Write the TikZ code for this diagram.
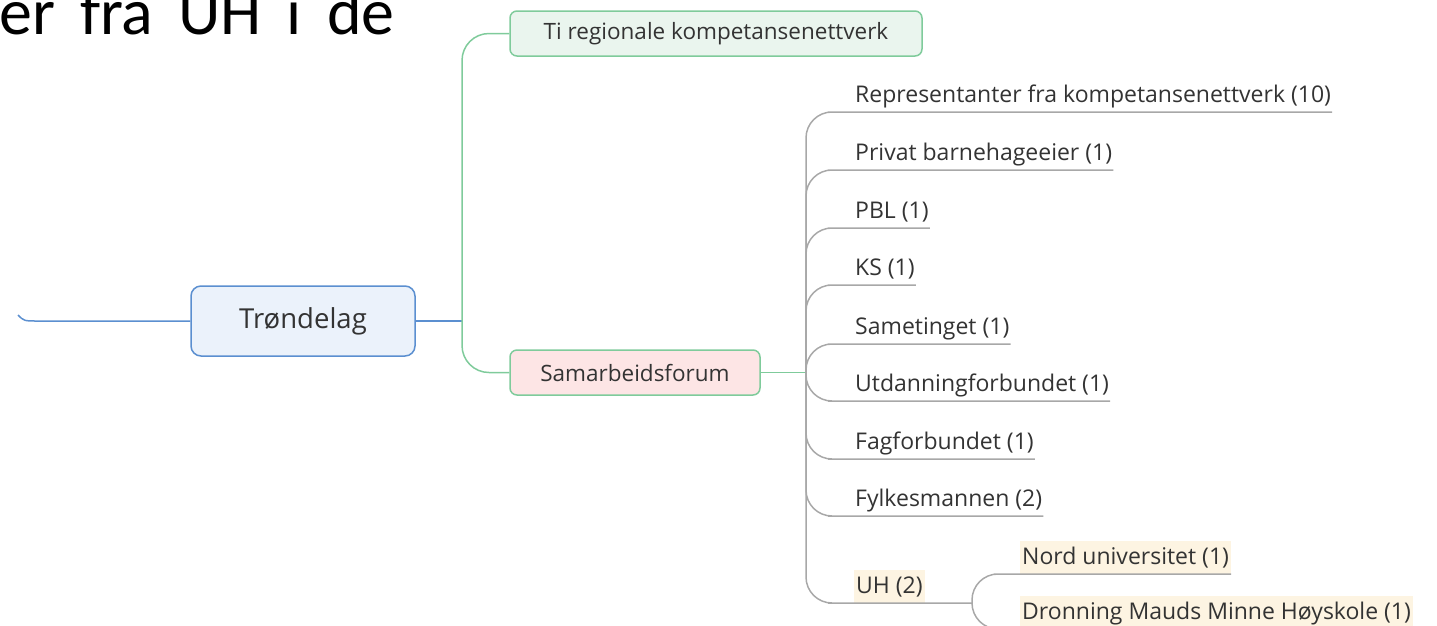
\documentclass[tikz,border=0pt]{standalone}
\usepackage{fontspec}
\setmainfont{Open Sans}
\newfontfamily\titlefont{Carlito}
\definecolor{mapblue}{HTML}{5B8FD0}
\definecolor{bluefill}{HTML}{EBF2FB}
\definecolor{mapgreen}{HTML}{7FCB9B}
\definecolor{tifill}{HTML}{EAF5EE}
\definecolor{pinkfill}{HTML}{FDE5E5}
\definecolor{linegray}{HTML}{A8A8A8}
\definecolor{hlyellow}{HTML}{FDF4E2}
\definecolor{txtgray}{HTML}{333333}
\begin{document}
\begin{tikzpicture}[
        x                = 1pt,
        y                = -1pt,
        text             = txtgray,
        font             = \fontsize{23}{27}\selectfont,
        topic/.style     = {draw=mapgreen, line width=1.5pt, rounded corners=7pt, minimum height=45pt, inner sep=0pt, font=\fontsize{22.5}{26}\selectfont},
        item/.style      = {anchor=south west, inner xsep=1pt, inner ysep=0pt, text height=24pt, text depth=9pt},
        hl/.style        = {fill=hlyellow, inner xsep=2pt},
        blueline/.style  = {draw=mapblue, line width=1.5pt},
        greenline/.style = {draw=mapgreen, line width=1.5pt, rounded corners=27pt},
        branch/.style    = {draw=linegray, line width=1.5pt, rounded corners=26pt},
      ]
        \clip (0,0) rectangle (1437,625);
        \node[font=\titlefont\fontsize{66}{72}\selectfont, text=black, anchor=base west, inner sep=0pt] (title) at (-1,34) {\spaceskip=25pt\relax er fra UH i de};

        % main topic
        \node[blueline, fill=bluefill, rounded corners=10pt, minimum width=224pt, minimum height=70pt, font=\fontsize{27.5}{32}\selectfont] (trond) at (303,321) {Trøndelag};
        \coordinate (prev) at (18,315);
        \coordinate (tjunc) at (462,321);
        \draw[blueline] (prev) .. controls (24,321) .. (38,321) -- (trond.west);
        \draw[blueline] (trond.east) -- (tjunc);

        \node[topic, fill=tifill, minimum width=412pt] (ti) at (716,33.5) {Ti regionale kompetansenettverk};
        \node[topic, fill=pinkfill, minimum width=250pt] (samf) at (635,372.5) {Samarbeidsforum};
        \draw[greenline] (tjunc) |- (ti.west);
        \draw[greenline] (tjunc) |- (samf.west);

        % members
        \coordinate (sjunc) at (806,372.5);
        \draw[draw=mapgreen, line width=1.5pt] (samf.east) -- (sjunc);
        \node[item] (rep) at (854,112) {Representanter fra kompetansenettverk (10)};
        \node[item] (privat) at (854,170) {Privat barnehageeier (1)};
        \node[item] (pbl) at (854,228) {PBL (1)};
        \node[item] (ks) at (854,285) {KS (1)};
        \node[item] (same) at (854,344) {Sametinget (1)};
        \node[item] (utd) at (854,401) {Utdanningforbundet (1)};
        \node[item] (fag) at (854,459) {Fagforbundet (1)};
        \node[item] (fylke) at (854,516) {Fylkesmannen (2)};
        \node[item, hl] (uh) at (854,603) {UH (2)};
        \draw[branch] (sjunc) |- (rep.south west) -- (rep.south east);
        \draw[branch] (sjunc) |- (privat.south west) -- (privat.south east);
        \draw[branch] (sjunc) |- (pbl.south west) -- (pbl.south east);
        \draw[branch] (sjunc) |- (ks.south west) -- (ks.south east);
        \draw[branch] (sjunc) |- (same.south west) -- (same.south east);
        \draw[branch] (sjunc) |- (utd.south west) -- (utd.south east);
        \draw[branch] (sjunc) |- (fag.south west) -- (fag.south east);
        \draw[branch] (sjunc) |- (fylke.south west) -- (fylke.south east);

        % UH
        \coordinate (ujunc) at (972,603);
        \node[item, hl] (nord) at (1020,574) {Nord universitet (1)};
        \node[item, hl] (dmmh) at (1020,629) {Dronning Mauds Minne Høyskole (1)};
        \draw[branch] (sjunc) |- (uh.south west) -- (ujunc);
        \draw[branch] (ujunc) |- (nord.south west) -- (nord.south east);
        \draw[branch] (ujunc) |- (dmmh.south west) -- (dmmh.south east);
    \end{tikzpicture}
\end{document}
